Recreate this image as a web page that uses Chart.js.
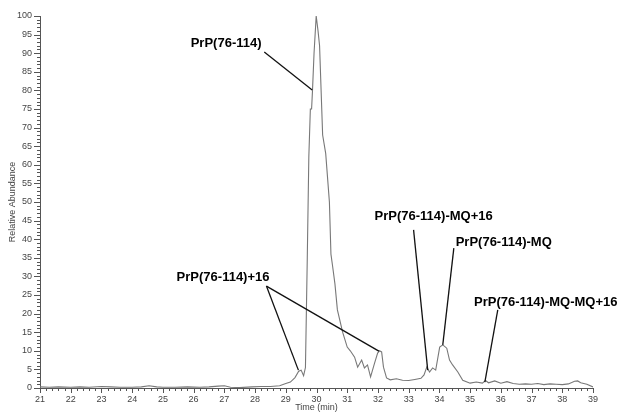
<!DOCTYPE html>
<html>
<head>
<meta charset="utf-8">
<script src="https://cdn.jsdelivr.net/npm/chart.js@4.4.1/dist/chart.umd.min.js"></script>
<style>
  html, body { margin: 0; padding: 0; background: #fff; }
  #wrap { width: 624px; height: 413px; }
</style>
</head>
<body>
<div id="wrap"><canvas id="chromChart" width="624" height="413"></canvas></div>
<script>
// retention time (min) and relative abundance (%)
var timeMin = [21.0, 21.3, 21.6, 22.0, 22.3, 22.6, 23.0, 23.3, 23.6, 24.0, 24.3, 24.55, 24.8, 25.0, 25.4, 25.8,
    26.2, 26.5, 26.8, 27.0, 27.2, 27.5, 27.9, 28.2, 28.5, 28.8, 29.0, 29.15, 29.3, 29.42, 29.5, 29.58, 29.64,
    29.7, 29.75, 29.8, 29.84, 29.87, 29.92, 29.99, 30.05, 30.1, 30.2, 30.3, 30.42, 30.47, 30.52, 30.6, 30.68,
    30.85, 31.0, 31.1, 31.24, 31.34, 31.47, 31.56, 31.66, 31.76, 31.89, 31.99, 32.05, 32.12, 32.18, 32.28,
    32.4, 32.6, 32.8, 33.0, 33.2, 33.4, 33.5, 33.59, 33.68, 33.78, 33.88, 34.01, 34.11, 34.24, 34.33, 34.43,
    34.6, 34.76, 35.0, 35.2, 35.4, 35.5, 35.6, 35.8, 36.0, 36.2, 36.4, 36.6, 36.8, 37.0, 37.2, 37.4, 37.6,
    37.8, 38.0, 38.2, 38.4, 38.5, 38.6, 38.8, 39.0];
var abundance = [0.3, 0.2, 0.3, 0.2, 0.3, 0.2, 0.4, 0.3, 0.2, 0.2, 0.3, 0.6, 0.3, 0.2, 0.2, 0.3,
    0.2, 0.3, 0.5, 0.6, 0.2, 0.1, 0.3, 0.4, 0.4, 0.6, 1.2, 1.6, 2.8, 4.5, 4.8, 3.3, 5.5,
    35, 62, 75, 75, 80, 90, 100, 96, 92, 68, 63, 50, 36, 33, 28, 21,
    15, 11, 10, 8.3, 5.6, 7.5, 5.4, 6.2, 3.0, 6.7, 9.4, 10, 9.7, 5.6, 2.7,
    2.2, 2.5, 2.1, 2.0, 2.3, 2.6, 3.5, 5.6, 4.3, 5.4, 4.8, 11, 11.6, 10.7, 7.5, 6.2,
    4.3, 2.1, 1.3, 1.6, 1.3, 2.0, 1.4, 1.9, 1.3, 1.7, 1.2, 1.0, 1.1, 1.0, 1.2, 0.9, 1.1,
    1.0, 0.9, 1.1, 1.8, 1.9, 1.4, 1.0, 0.3];

// peak labels: text, text anchor (time, abundance), alignment, leader line targets
var peakNames = ['PrP(76-114)', 'PrP(76-114)+16', 'PrP(76-114)-MQ+16', 'PrP(76-114)-MQ', 'PrP(76-114)-MQ-MQ+16'];
var labelAt = [[28.21, 92.5], [28.47, 29.8], [31.89, 46], [34.53, 39], [35.13, 23.1]];
var labelAlign = ['right', 'right', 'left', 'left', 'left'];
var leaderFrom = [[28.30, 90.3], [28.37, 27.4], [33.16, 42.5], [34.47, 37.6], [35.90, 21]];
var leaderTo = [[[29.86, 80.1]], [[29.41, 4.8], [32.03, 9.9]], [[33.62, 4.8]], [[34.11, 11.6]], [[35.48, 1.6]]];

var points = timeMin.map(function (t, i) { return { x: t, y: abundance[i] }; });

var axisTicks = {
    id: 'axisTicks',
    afterDraw: function (chart) {
        var c = chart.ctx, xs = chart.scales.x, ys = chart.scales.y;
        c.save();
        c.strokeStyle = '#555';
        c.lineWidth = 1;
        c.beginPath();
        var i, px, len;
        for (i = 0; i <= 90; i++) {
            px = Math.round(xs.getPixelForValue(21 + i * 0.2)) + 0.5;
            len = (i % 5 === 0) ? 5 : 3;
            c.moveTo(px, xs.top);
            c.lineTo(px, xs.top + len);
        }
        for (i = 0; i <= 100; i++) {
            px = Math.round(ys.getPixelForValue(i)) + 0.5;
            len = (i % 5 === 0) ? 6 : 3;
            c.moveTo(ys.right, px);
            c.lineTo(ys.right - len, px);
        }
        c.stroke();
        c.restore();
    }
};

var peakLabels = {
    id: 'peakLabels',
    afterDatasetsDraw: function (chart) {
        var c = chart.ctx, xs = chart.scales.x, ys = chart.scales.y;
        c.save();
        c.strokeStyle = '#111';
        c.lineWidth = 1.3;
        leaderFrom.forEach(function (p, i) {
            leaderTo[i].forEach(function (q) {
                c.beginPath();
                c.moveTo(xs.getPixelForValue(p[0]), ys.getPixelForValue(p[1]));
                c.lineTo(xs.getPixelForValue(q[0]), ys.getPixelForValue(q[1]));
                c.stroke();
            });
        });
        c.fillStyle = '#000';
        c.font = 'bold 13px "Liberation Sans", Arial, sans-serif';
        c.textBaseline = 'middle';
        peakNames.forEach(function (name, i) {
            c.textAlign = labelAlign[i];
            c.fillText(name, xs.getPixelForValue(labelAt[i][0]), ys.getPixelForValue(labelAt[i][1]));
        });
        c.restore();
    }
};

var tickFont = { family: '"Liberation Sans Narrow", "Liberation Sans", Arial, sans-serif', size: 9 };

new Chart(document.getElementById('chromChart').getContext('2d'), {
    type: 'line',
    data: {
        datasets: [{
            data: points,
            borderColor: '#787878',
            borderWidth: 1.1,
            pointRadius: 0,
            tension: 0,
            fill: false
        }]
    },
    options: {
        responsive: false,
        animation: false,
        events: [],
        layout: { padding: { top: 16, right: 31, left: 0, bottom: 0 } },
        plugins: { legend: { display: false }, tooltip: { enabled: false } },
        scales: {
            x: {
                type: 'linear',
                min: 21,
                max: 39,
                afterFit: function (s) { s.height = 25; },
                grid: { display: false, drawTicks: false },
                border: { display: true, color: '#555', width: 1 },
                ticks: { stepSize: 1, padding: 6, color: '#444', font: tickFont, maxRotation: 0, autoSkip: false },
                title: { display: true, text: 'Time (min)', color: '#444', font: tickFont, padding: { top: 0, bottom: 0 } }
            },
            y: {
                min: 0,
                max: 100,
                afterFit: function (s) { s.width = 40; },
                grid: { display: false, drawTicks: false },
                border: { display: true, color: '#555', width: 1 },
                ticks: { stepSize: 5, padding: 8, color: '#444', font: tickFont, autoSkip: false },
                title: { display: true, text: 'Relative Abundance', color: '#444', font: tickFont, padding: { top: 7, bottom: 0 } }
            }
        }
    },
    plugins: [axisTicks, peakLabels]
});
</script>
</body>
</html>
